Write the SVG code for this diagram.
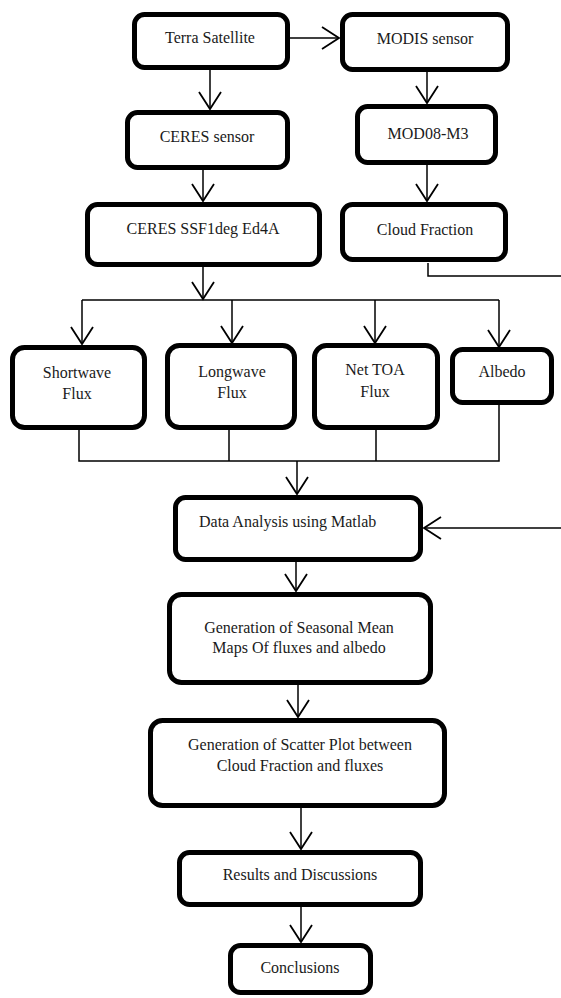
<svg xmlns="http://www.w3.org/2000/svg" width="561" height="998" viewBox="0 0 561 998">
<style>
.box{fill:#fff;stroke:#000;stroke-width:5}
.c{fill:none;stroke:#000;stroke-width:1.5}
text{font-family:"Liberation Serif","Times New Roman",serif;font-size:16px;fill:#1a1a1a;text-anchor:middle}
</style>
<defs>
<marker id="ah" viewBox="0 0 20 26" refX="18" refY="13" markerWidth="20" markerHeight="26" markerUnits="userSpaceOnUse" orient="auto">
<path d="M1,2 L18,13 L1,24" fill="none" stroke="#000" stroke-width="1.8"/>
</marker>
</defs>
<rect width="561" height="998" fill="#fff"/>
<g id="connectors">
<path class="c" d="M290,38 H339" marker-end="url(#ah)"/>
<path class="c" d="M210,70 V109" marker-end="url(#ah)"/>
<path class="c" d="M427,72 V103" marker-end="url(#ah)"/>
<path class="c" d="M203,170 V201" marker-end="url(#ah)"/>
<path class="c" d="M427,165 V201" marker-end="url(#ah)"/>
<path class="c" d="M203,267 V299" marker-end="url(#ah)"/>
<path class="c" d="M82,300 H499"/>
<path class="c" d="M82,300 V344" marker-end="url(#ah)"/>
<path class="c" d="M232,300 V343" marker-end="url(#ah)"/>
<path class="c" d="M375,300 V343" marker-end="url(#ah)"/>
<path class="c" d="M499,300 V347" marker-end="url(#ah)"/>
<path class="c" d="M79,430 V461 H499 V405"/>
<path class="c" d="M229,430 V461"/>
<path class="c" d="M376,430 V461"/>
<path class="c" d="M297,461 V494" marker-end="url(#ah)"/>
<path class="c" d="M428,263 V276 H561"/>
<path class="c" d="M561,528 H424" marker-end="url(#ah)"/>
<path class="c" d="M296,562 V591" marker-end="url(#ah)"/>
<path class="c" d="M298,685 V717" marker-end="url(#ah)"/>
<path class="c" d="M301,808 V849" marker-end="url(#ah)"/>
<path class="c" d="M301,907 V942" marker-end="url(#ah)"/>
</g>
<g id="terra"><rect class="box" x="134.5" y="14.5" width="153" height="53" rx="10"/><text x="210" y="43">Terra Satellite</text></g>
<g id="modis"><rect class="box" x="342.5" y="14.5" width="165" height="55" rx="10"/><text x="425" y="44">MODIS sensor</text></g>
<g id="ceres"><rect class="box" x="127.5" y="112.5" width="160" height="55" rx="10"/><text x="207" y="142">CERES sensor</text></g>
<g id="mod08"><rect class="box" x="357.5" y="106.5" width="138" height="56" rx="10"/><text x="428" y="139">MOD08-M3</text></g>
<g id="ssf"><rect class="box" x="87.5" y="204.5" width="232" height="60" rx="10"/><text x="203" y="234">CERES SSF1deg Ed4A</text></g>
<g id="cloud"><rect class="box" x="342.5" y="204.5" width="163" height="55" rx="10"/><text x="425" y="235">Cloud Fraction</text></g>
<g id="shortwave"><rect class="box" x="12.5" y="347.5" width="132" height="80" rx="12"/><text x="77" y="378">Shortwave</text><text x="77" y="399">Flux</text></g>
<g id="longwave"><rect class="box" x="167.5" y="345.5" width="127" height="82" rx="12"/><text x="232" y="377">Longwave</text><text x="232" y="398">Flux</text></g>
<g id="nettoa"><rect class="box" x="314.5" y="345.5" width="123" height="82" rx="12"/><text x="375" y="375">Net TOA</text><text x="375" y="397">Flux</text></g>
<g id="albedo"><rect class="box" x="452.5" y="349.5" width="99" height="53" rx="10"/><text x="502" y="377">Albedo</text></g>
<g id="analysis"><rect class="box" x="175.5" y="497.5" width="245" height="62" rx="10"/><text x="199" y="527" style="text-anchor:start">Data Analysis using Matlab</text></g>
<g id="seasonal"><rect class="box" x="169.5" y="594.5" width="261" height="88" rx="12"/><text x="299" y="633">Generation of Seasonal Mean</text><text x="299" y="653">Maps Of fluxes and albedo</text></g>
<g id="scatter"><rect class="box" x="150.5" y="720.5" width="294" height="85" rx="12"/><text x="300" y="750">Generation of Scatter Plot between</text><text x="300" y="771">Cloud Fraction and fluxes</text></g>
<g id="results"><rect class="box" x="179.5" y="852.5" width="241" height="52" rx="10"/><text x="300" y="880">Results and Discussions</text></g>
<g id="conclusions"><rect class="box" x="230.5" y="945.5" width="140" height="47" rx="10"/><text x="300" y="973">Conclusions</text></g>
</svg>
